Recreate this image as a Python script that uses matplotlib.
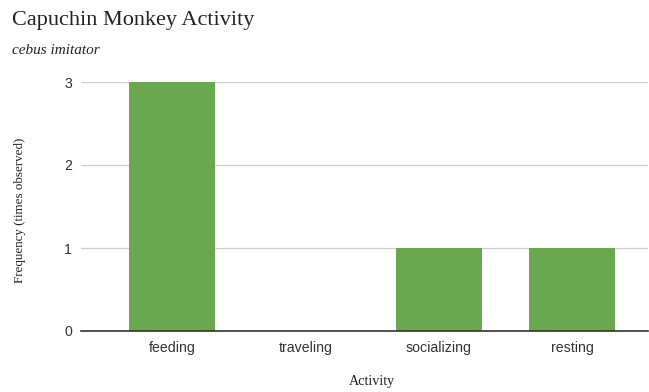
import matplotlib
matplotlib.use("Agg")
import matplotlib.pyplot as plt

activities = ["feeding", "traveling", "socializing", "resting"]
frequency = [3, 0, 1, 1]
y_ticks = [0, 1, 2, 3]

W, H = 649, 392
fig = plt.figure(figsize=(W / 100, H / 100), dpi=100)

# plot area in pixels: left 81, right 648, top 82 (y=3), bottom 331 (y=0)
left, right, top, bottom = 81, 648, 82, 331
ax = fig.add_axes([left / W, 1 - bottom / H, (right - left) / W, (bottom - top) / H])

x = list(range(len(activities)))
ax.bar(x, frequency, width=0.644, color="#6aa84f", zorder=3)

ax.set_xlim(-0.682, 3.566)
ax.set_ylim(0, 3)
ax.set_yticks(y_ticks)
ax.set_yticklabels([str(v) for v in y_ticks])
ax.set_xticks(x)
ax.set_xticklabels(activities)

for s in ["top", "right", "left"]:
    ax.spines[s].set_visible(False)
ax.spines["bottom"].set_color("#333333")
ax.spines["bottom"].set_linewidth(1.2)
ax.spines["bottom"].set_zorder(4)

ax.grid(axis="y", color="#cccccc", linewidth=0.9, zorder=0)
ax.tick_params(axis="both", length=0, labelsize=10.2, labelcolor="#333333",
               labelfontfamily="Liberation Sans")
ax.tick_params(axis="y", pad=6.5)
ax.tick_params(axis="x", pad=7)

fig.text(12 / W, 1 - 20 / H, "Capuchin Monkey Activity", family="Liberation Serif",
         fontsize=16, color="#222222", va="center", ha="left")
fig.text(12 / W, 1 - 50 / H, "cebus imitator", family="Liberation Serif",
         style="italic", fontsize=11, color="#222222", va="center", ha="left")
fig.text(20 / W, 1 - 210 / H, "Frequency (times observed)", family="Liberation Serif",
         fontsize=9.4, color="#222222", rotation=90, va="center", ha="center")
fig.text(372 / W, 1 - 382 / H, "Activity", family="Liberation Serif",
         fontsize=10.2, color="#222222", va="center", ha="center")

fig.savefig("out.png", dpi=100, facecolor="white")
